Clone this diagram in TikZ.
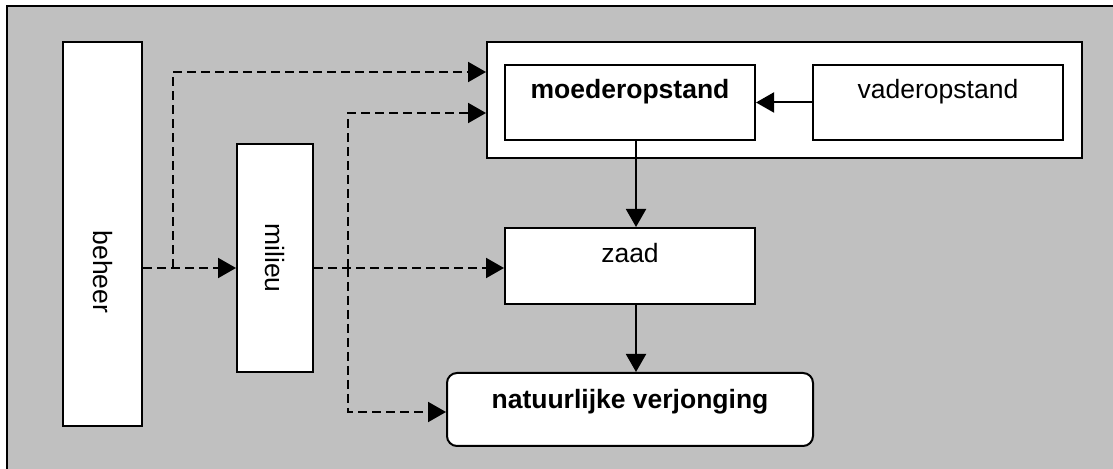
\documentclass[tikz,border=0pt]{standalone}
\usepackage{fontspec}
\setmainfont{Liberation Sans}
\usepackage{graphicx}
\usetikzlibrary{arrows.meta}

\definecolor{achtergrond}{RGB}{192,192,192}

\tikzset{
  blok/.style={draw, fill=white, line width=1pt, inner sep=0pt,
    font=\fontsize{13.25}{15}\selectfont},
  tekstblok/.style={blok, text height=17pt, text depth=20.5pt},
  pijl/.style={line width=1pt, -{Triangle[length=9pt,width=10pt]}},
  stippel/.style={pijl, dash pattern=on 4.5pt off 2.5pt},
}

\begin{document}
\begin{tikzpicture}[x=0.5pt,y=-0.5pt]
\useasboundingbox (0,0) rectangle (1113,469);
\clip (0,0) rectangle (1113,469);
\draw[line width=1pt, fill=achtergrond] (7,6) rectangle (1130,490);

% blokken
\node[blok, minimum width=39.5pt, minimum height=192pt] (beheer) at (102.5,234) {\rotatebox{-90}{\hspace*{38pt}beheer}};
\node[blok, minimum width=38pt, minimum height=114pt] (milieu) at (275,258) {\rotatebox{-90}{milieu}};
\node[blok, minimum width=297.5pt, minimum height=58pt] (ouders) at (784.5,100) {};
\node[tekstblok, minimum width=125pt, font=\fontsize{13.25}{15}\selectfont\bfseries] (moeder) at (630,102.5) {moederopstand};
\node[tekstblok, minimum width=125pt] (vader) at (938,102.5) {vaderopstand};
\node[tekstblok, minimum width=125pt, text height=17.5pt] (zaad) at (630,266) {zaad};
\node[tekstblok, minimum width=183pt, text height=18pt, text depth=18.5pt, rounded corners=5pt,
  font=\fontsize{13.25}{15}\selectfont\bfseries] (verjonging) at (630,409.5) {natuurlijke verjonging};

\coordinate (splits) at (173,268);
\coordinate (tak) at (348,268);

% pijlen
\draw[pijl] (vader) -- (moeder);
\draw[pijl] ([xshift=3pt]moeder.south) -- ([xshift=3pt]zaad.north);
\draw[pijl] ([xshift=3pt]zaad.south) -- ([xshift=3pt]verjonging.north);
\draw[stippel] (beheer.east |- splits) -- (milieu.west |- splits);
\draw[stippel] (splits) |- (ouders.west |- 0,72);
\draw[stippel] (milieu.east |- splits) -- (zaad.west |- splits);
\draw[stippel] (tak) |- (ouders.west |- 0,113);
\draw[stippel] (tak) |- ([yshift=-1.25pt]verjonging.west);
\end{tikzpicture}
\end{document}
